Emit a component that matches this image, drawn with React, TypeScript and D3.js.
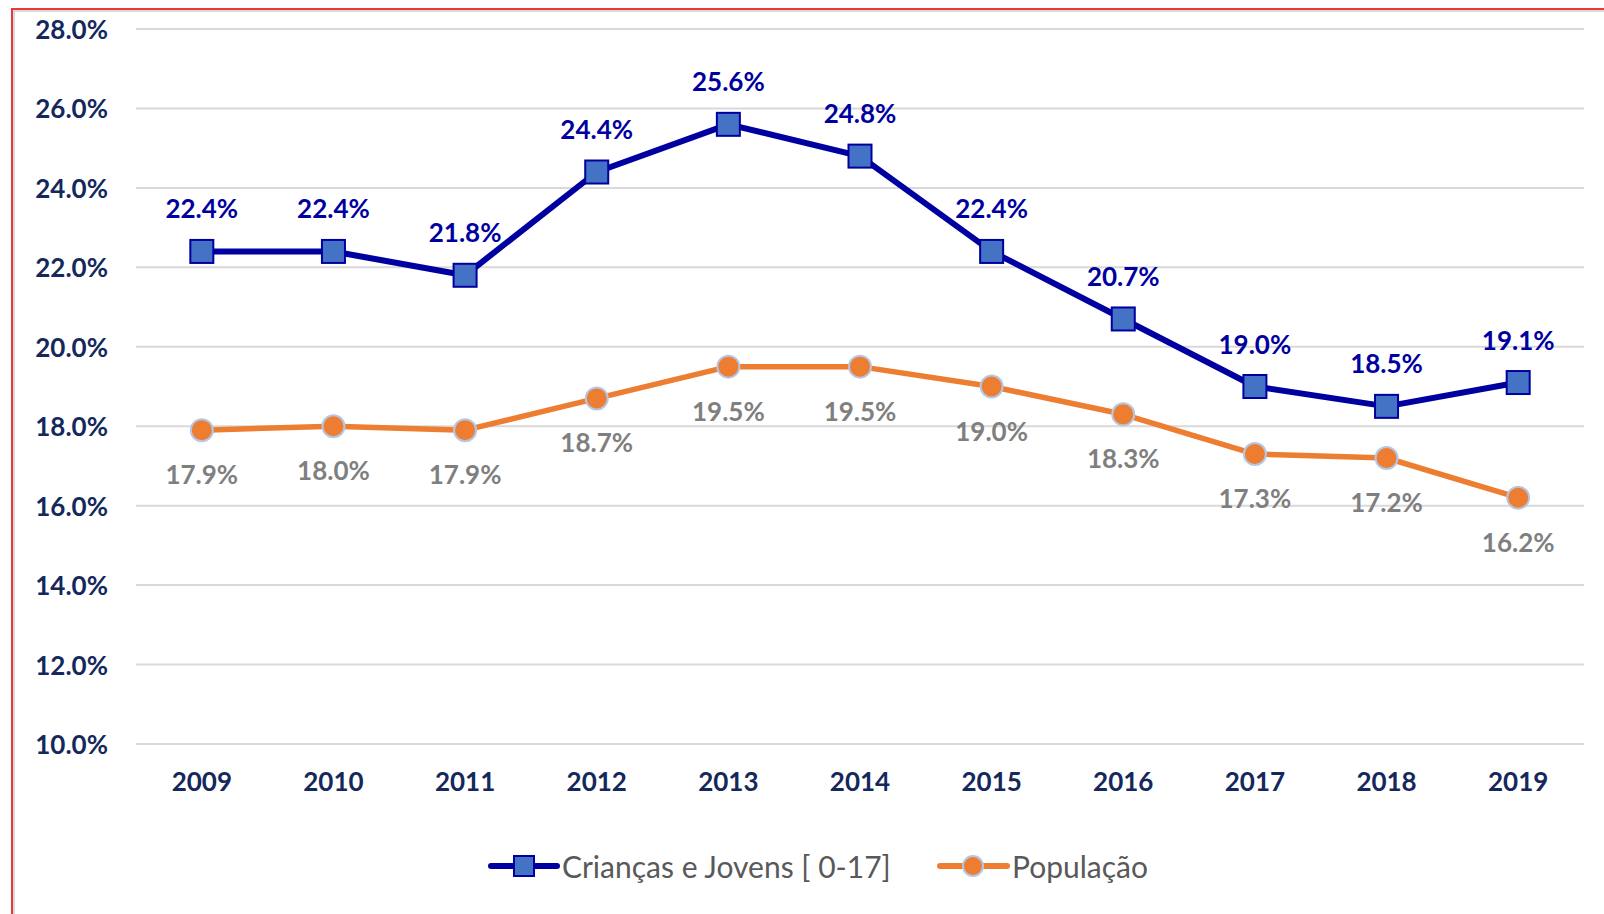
import React from "react";
import * as d3 from "d3";

const years = ["2009", "2010", "2011", "2012", "2013", "2014", "2015", "2016", "2017", "2018", "2019"];
const criancas = [22.4, 22.4, 21.8, 24.4, 25.6, 24.8, 22.4, 20.7, 19.0, 18.5, 19.1];
const populacao = [17.9, 18.0, 17.9, 18.7, 19.5, 19.5, 19.0, 18.3, 17.3, 17.2, 16.2];
const yTicks = [10, 12, 14, 16, 18, 20, 22, 24, 26, 28];
const seriesNames = ["Crianças e Jovens [ 0-17]", "População"];

const W = 1604;
const H = 914;
const left = 136;
const right = 1584;
const top = 29;
const bottom = 744;

const FONT = "Lato, 'Open Sans', sans-serif";
const BLUE = "#0000A0";
const BLUE_FILL = "#4472C4";
const ORANGE = "#ED7D31";
const NAVY = "#14285C";
const GRAY = "#7F7F7F";
const FS = 26;

export default function App() {
  const x = d3.scaleBand<string>().domain(years).range([left, right]);
  const y = d3.scaleLinear().domain([10, 28]).range([bottom, top]);
  const cx = (d: string) => (x(d) as number) + x.bandwidth() / 2;
  const line = d3
    .line<number>()
    .x((_, i) => cx(years[i]))
    .y((v) => y(v));
  const fmt = (v: number) => v.toFixed(1) + "%";
  const sq = 23;
  const legY = 866;

  return (
    <svg
      width={W}
      height={H}
      style={{ position: "absolute", left: 0, top: 0, background: "#fff" }}
      fontFamily={FONT}
    >
      <rect x={0} y={0} width={W} height={H} fill="#fff" />
      {/* frame */}
      <rect x={14} y={11} width={W + 20} height={H + 20} fill="none" stroke="#D9D9D9" strokeWidth={2} />
      <rect x={12} y={9} width={W + 20} height={H + 20} fill="none" stroke="#E5393B" strokeWidth={2} />

      {/* gridlines */}
      {yTicks.map((t) => (
        <g key={t}>
          <line x1={left} x2={right} y1={y(t)} y2={y(t)} stroke="#D9D9D9" strokeWidth={2} />
          <text
            x={108}
            y={y(t)}
            textAnchor="end"
            dominantBaseline="central"
            fontSize={FS}
            fontWeight={700}
            fill={NAVY}
          >
            {t.toFixed(1) + "%"}
          </text>
        </g>
      ))}

      {/* x labels */}
      {years.map((yr) => (
        <text
          key={yr}
          x={cx(yr)}
          y={781}
          textAnchor="middle"
          dominantBaseline="central"
          fontSize={FS}
          fontWeight={700}
          fill={NAVY}
        >
          {yr}
        </text>
      ))}

      {/* populacao */}
      <path d={line(populacao) || ""} fill="none" stroke={ORANGE} strokeWidth={5.5} strokeLinejoin="round" />
      {populacao.map((v, i) => (
        <circle key={i} cx={cx(years[i])} cy={y(v)} r={11} fill={ORANGE} stroke="#B4C7E7" strokeWidth={2} />
      ))}
      {populacao.map((v, i) => (
        <text
          key={"pl" + i}
          x={cx(years[i])}
          y={y(v) + 44}
          textAnchor="middle"
          dominantBaseline="central"
          fontSize={FS}
          fontWeight={700}
          fill={GRAY}
        >
          {fmt(v)}
        </text>
      ))}

      {/* criancas */}
      <path d={line(criancas) || ""} fill="none" stroke={BLUE} strokeWidth={6} strokeLinejoin="round" />
      {criancas.map((v, i) => (
        <rect
          key={i}
          x={cx(years[i]) - sq / 2}
          y={y(v) - sq / 2}
          width={sq}
          height={sq}
          fill={BLUE_FILL}
          stroke={BLUE}
          strokeWidth={2}
        />
      ))}
      {criancas.map((v, i) => (
        <text
          key={"cl" + i}
          x={cx(years[i])}
          y={y(v) - 43}
          textAnchor="middle"
          dominantBaseline="central"
          fontSize={FS}
          fontWeight={700}
          fill={BLUE}
        >
          {fmt(v)}
        </text>
      ))}

      {/* legend */}
      <g>
        <line x1={491} x2={557} y1={legY} y2={legY} stroke={BLUE} strokeWidth={6} strokeLinecap="round" />
        <rect x={524 - 10} y={legY - 10} width={20} height={20} fill={BLUE_FILL} stroke={BLUE} strokeWidth={2} />
        <text x={562} y={legY} dominantBaseline="central" fontSize={30} fill="#595959">
          {seriesNames[0]}
        </text>
        <line x1={940} x2={1007} y1={legY} y2={legY} stroke={ORANGE} strokeWidth={6} strokeLinecap="round" />
        <circle cx={973} cy={legY} r={10} fill={ORANGE} stroke="#B4C7E7" strokeWidth={2} />
        <text x={1012} y={legY} dominantBaseline="central" fontSize={30} fill="#595959">
          {seriesNames[1]}
        </text>
      </g>
    </svg>
  );
}
